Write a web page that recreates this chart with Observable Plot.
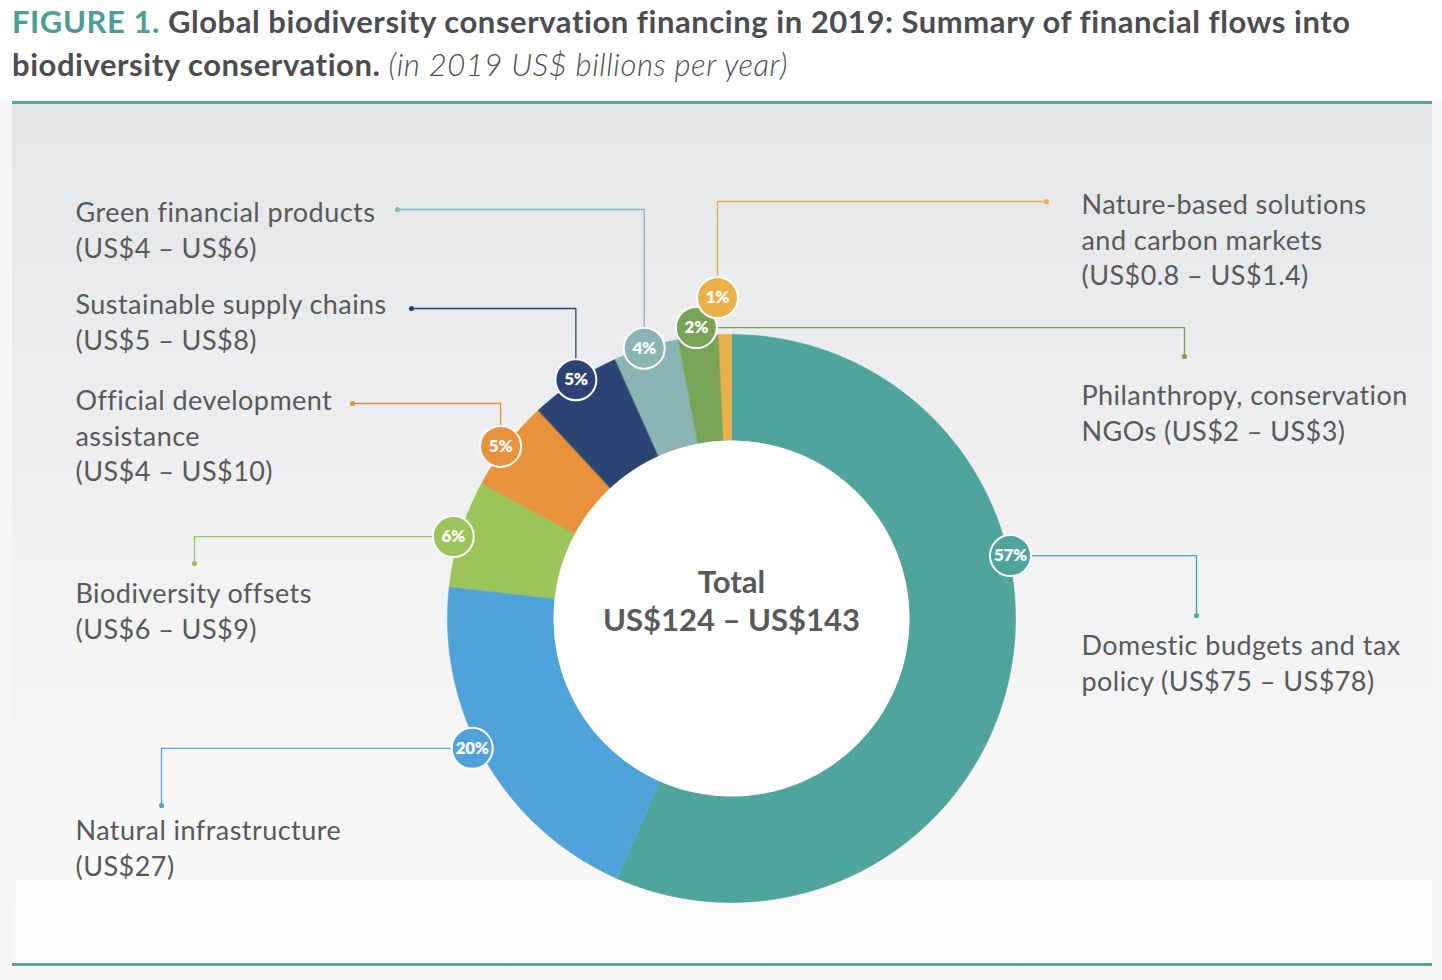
<!DOCTYPE html>
<html>
<head>
<meta charset="utf-8">
<script src="https://cdn.jsdelivr.net/npm/d3@7"></script>
<script src="https://cdn.jsdelivr.net/npm/@observablehq/plot@0.6"></script>
<style>
  html, body { margin: 0; padding: 0; background: #f7f7f7; width: 1442px; height: 980px; overflow: hidden; }
  #head { position: absolute; left: 0; top: 0; width: 1442px; height: 101px; background: #ffffff; }
  #title { position: absolute; left: 12px; top: 0px; width: 1430px; font-family: Lato, "Open Sans", sans-serif; font-weight: 700; font-size: 31px; letter-spacing: 0.55px; line-height: 43px; color: #4d4d4f; white-space: nowrap; }
  #title .fig { color: #4a9e97; }
  #title .sub { font-weight: 300; font-style: italic; }
  .rule { position: absolute; left: 12px; width: 1420px; height: 3px; background: #5aa39d; }
  #chart { position: absolute; left: 12px; top: 104px; width: 1420px; height: 859px; background: linear-gradient(#e5e6e8, #f2f2f3 55%, #fbfbfb); }
  .flowlabel text { letter-spacing: 0.45px; }
  .badgetext text { letter-spacing: -0.3px; }
</style>
</head>
<body>
<div id="head"></div>
<div id="title"><span class="fig">FIGURE 1.</span> Global biodiversity conservation financing in 2019: Summary of financial flows into<br>biodiversity conservation. <span class="sub">(in 2019 US$ billions per year)</span></div>
<div class="rule" style="top:101px"></div>
<div id="chart"></div>
<div class="rule" style="top:963px"></div>
<script>
// ---- data ----
const categories = [
  "Domestic budgets and tax policy",
  "Natural infrastructure",
  "Biodiversity offsets",
  "Official development assistance",
  "Sustainable supply chains",
  "Green financial products",
  "Philanthropy, conservation NGOs",
  "Nature-based solutions and carbon markets"
];
// share of total flows (%), clockwise from 12 o'clock
const shares = [56.6, 20.2, 6.1, 5.2, 5.2, 3.7, 2.3, 0.7];
const pctLabels = ["57%", "20%", "6%", "5%", "5%", "4%", "2%", "1%"];
const labelTexts = [
  "Domestic budgets and tax\npolicy (US$75 – US$78)",
  "Natural infrastructure\n(US$27)",
  "Biodiversity offsets\n(US$6 – US$9)",
  "Official development\nassistance\n(US$4 – US$10)",
  "Sustainable supply chains\n(US$5 – US$8)",
  "Green financial products\n(US$4 – US$6)",
  "Philanthropy, conservation\nNGOs (US$2 – US$3)",
  "Nature-based solutions\nand carbon markets\n(US$0.8 – US$1.4)"
];
const totalLabel = ["Total", "US$124 – US$143"];

// ---- styles ----
const colors = ["#4fa59c", "#4fa3d9", "#9bc45a", "#e8923c", "#2c4474", "#8bb5b4", "#79a357", "#eab049"];
const textColor = "#58595b";

// ---- layout (page pixels / degrees) ----
const cx = 731, cy = 618, rOuter = 284, rInner = 178;
const badgeAngle = [77.3, 243.4, 286.4, 306.7, 326.9, 342.1, 353.1, 357.5];
const badgeRadius = [286, 290, 290, 288, 285, 284, 293, 321];
// leader: route "h" (horizontal then vertical) or "v" (vertical then horizontal)
const leaderRoute = ["h", "h", "h", "v", "v", "v", "h", "v"];
const leaderElbow = [1196, 161, 194, 403, 308, 209, 1184, 201];
const leaderEnd   = [615, 805, 563, 352, 411, 397, 356, 1046];
const labelX = [1081, 75, 75, 75, 75, 75, 1081, 1081];
const labelTop = [630, 815, 578, 385, 289, 197, 380, 189];

// ---- derived geometry ----
const polar = (deg, r) => [cx + r * Math.sin(deg * Math.PI / 180), cy - r * Math.cos(deg * Math.PI / 180)];
const total = d3.sum(shares);
let cum = 0;
const slices = [];
const badges = [];
const leaders = [];
const labels = [];
categories.forEach((c, i) => {
  const a0 = cum / total * 360, a1 = (cum + shares[i]) / total * 360;
  cum += shares[i];
  const n = Math.max(4, Math.ceil((a1 - a0) / 0.5));
  for (let k = 0; k <= n; k++) {
    const [x, y] = polar(a0 + (a1 - a0) * k / n, rOuter);
    slices.push({category: c, x, y});
  }
  for (let k = n; k >= 0; k--) {
    const [x, y] = polar(a0 + (a1 - a0) * k / n, rInner);
    slices.push({category: c, x, y});
  }
  const ang = badgeAngle[i] ?? (a0 + a1) / 2;
  const [bx, by] = polar(ang, badgeRadius[i]);
  badges.push({category: c, x: bx, y: by, pct: pctLabels[i]});
  let pts;
  if (leaderRoute[i] === "h") pts = [[bx, by], [leaderElbow[i], by], [leaderElbow[i], leaderEnd[i]]];
  else pts = [[bx, by], [bx, leaderElbow[i]], [leaderEnd[i], leaderElbow[i]]];
  pts.forEach(([x, y], k) => leaders.push({category: c, x, y, end: k === 2}));
  labels.push({category: c, x: labelX[i], y: labelTop[i], text: labelTexts[i]});
});

const chart = Plot.plot({
  width: 1420,
  height: 859,
  margin: 0,
  x: {domain: [12, 1432], range: [0, 1420], axis: null},
  y: {domain: [104, 963], range: [0, 859], axis: null},
  color: {domain: categories, range: colors},
  style: {background: "transparent", fontFamily: "Lato, 'Open Sans', sans-serif", overflow: "visible"},
  marks: [
    Plot.line(leaders, {x: "x", y: "y", z: "category", stroke: "category", strokeWidth: 1.3}),
    Plot.dot(leaders.filter(d => d.end), {x: "x", y: "y", fill: "category", r: 2.6}),
    Plot.line(slices, {x: "x", y: "y", z: "category", fill: "category", stroke: "category", strokeWidth: 0.6, curve: "linear-closed"}),
    Plot.dot([{x: cx, y: cy}], {x: "x", y: "y", r: rInner, fill: "#ffffff"}),
    Plot.dot(badges, {x: "x", y: "y", r: 20.5, fill: "category", stroke: "#ffffff", strokeWidth: 2}),
    Plot.text(badges, {x: "x", y: "y", text: "pct", fill: "#ffffff", fontSize: 17, fontWeight: 800, className: "badgetext"}),
    Plot.text(labels, {x: "x", y: "y", text: "text", textAnchor: "start", lineAnchor: "top", fontSize: 27, lineHeight: 1.3, fill: textColor, className: "flowlabel"}),
    Plot.text([{x: cx, y: 583, t: totalLabel[0]}, {x: cx, y: 621, t: totalLabel[1]}], {x: "x", y: "y", text: "t", fontSize: 31, fontWeight: 700, fill: textColor})
  ]
});
document.getElementById("chart").appendChild(chart);
</script>
</body>
</html>
